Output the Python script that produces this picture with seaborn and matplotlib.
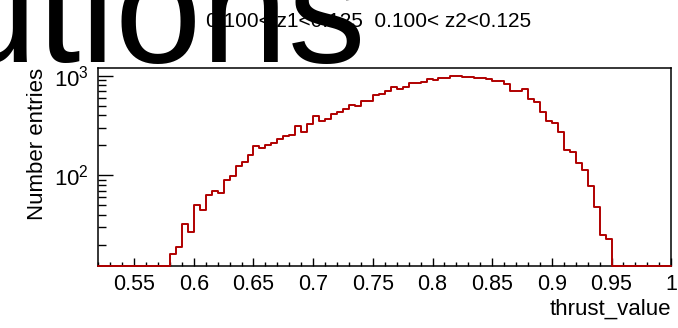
import numpy as np
import pandas as pd
import seaborn as sns
import matplotlib
matplotlib.use("Agg")
import matplotlib.pyplot as plt
from matplotlib.ticker import MultipleLocator, FixedLocator, NullFormatter

# Histogram: 96 bins of width 0.005 between 0.52 and 1.0
bin_lo = 0.52
bin_hi = 1.0
entries = [
    0, 0, 0, 0, 0, 0, 0, 0, 0, 0, 0, 0,                      # 0.520 - 0.575
    16, 19, 32, 27, 50, 45, 63, 69, 66, 90, 97, 124,         # 0.580 - 0.635
    137, 160, 197, 187, 200, 213, 230, 250, 255, 313, 275, 329,  # 0.640 - 0.695
    395, 347, 366, 411, 437, 462, 505, 491, 555, 560, 640, 654,  # 0.700 - 0.755
    695, 765, 737, 770, 843, 845, 857, 930, 900, 950, 950, 1000,  # 0.760 - 0.815
    985, 970, 965, 960, 940, 925, 880, 891, 830, 710, 710, 736,  # 0.820 - 0.875
    580, 550, 435, 347, 334, 272, 180, 173, 132, 112, 77, 48,    # 0.880 - 0.935
    25, 23, 0, 0, 0, 0, 0, 0, 0, 0, 0, 0,                     # 0.940 - 0.995
]

x_ticks = [0.55, 0.6, 0.65, 0.7, 0.75, 0.8, 0.85, 0.9, 0.95, 1.0]
x_tick_labels = ["0.55", "0.6", "0.65", "0.7", "0.75", "0.8", "0.85", "0.9", "0.95", "1"]
y_ticks = [100, 1000]
y_tick_labels = ["$10^{2}$", "$10^{3}$"]
y_minor = [20, 30, 40, 50, 60, 70, 80, 90, 200, 300, 400, 500, 600, 700, 800, 900]
y_min, y_max = 12.2, 1200

title_text = "distributions"
cut_text = "0.100< z1<0.125  0.100< z2<0.125"

sns.set_theme(style="white")
plt.rcParams["font.family"] = ["Liberation Sans", "DejaVu Sans"]
plt.rcParams["mathtext.fontset"] = "custom"
plt.rcParams["mathtext.rm"] = "Liberation Sans"
plt.rcParams["mathtext.default"] = "regular"
plt.rcParams["text.color"] = "black"
plt.rcParams["axes.labelcolor"] = "black"
plt.rcParams["xtick.color"] = "black"
plt.rcParams["ytick.color"] = "black"

edges = np.linspace(bin_lo, bin_hi, len(entries) + 1)
centers = (edges[:-1] + edges[1:]) / 2
df = pd.DataFrame({"thrust_value": centers,
                   "entries": np.clip(entries, y_min, None)})

fig = plt.figure(figsize=(6.78, 3.28), dpi=100)
ax = fig.add_axes([0.145, 0.189, 0.845, 0.604])

sns.histplot(data=df, x="thrust_value", weights="entries", bins=edges.tolist(),
             element="step", fill=False, color="#b00000", linewidth=1.4, ax=ax)
for ln in ax.lines:
    ln.set_clip_on(False)
    ln.set_zorder(3)

ax.set_yscale("log")
ax.set_xlim(bin_lo, bin_hi)
ax.set_ylim(y_min, y_max)

ax.xaxis.set_major_locator(FixedLocator(x_ticks))
ax.set_xticklabels(x_tick_labels)
ax.xaxis.set_minor_locator(MultipleLocator(0.01))
ax.yaxis.set_major_locator(FixedLocator(y_ticks))
ax.set_yticklabels(y_tick_labels)
ax.yaxis.set_minor_locator(FixedLocator(y_minor))
ax.yaxis.set_minor_formatter(NullFormatter())

ax.tick_params(which="both", direction="in", bottom=True, left=True,
               top=False, right=False, color="black")
ax.tick_params(axis="x", which="major", length=6, width=1, labelsize=15.5, pad=5.5)
ax.tick_params(axis="x", which="minor", length=3, width=1)
ax.tick_params(axis="y", which="major", length=11, width=1, labelsize=16, pad=7)
ax.tick_params(axis="y", which="minor", length=5.5, width=1)

for s in ax.spines.values():
    s.set_color("black")
    s.set_linewidth(1.1)

ax.set_xlabel("thrust_value", fontsize=16, loc="right", labelpad=3)
ax.set_ylabel("Number entries", fontsize=16, loc="top")

fig.text(0.544, 0.9177, cut_text, fontsize=15, ha="center", va="baseline")
fig.text(0.54, 0.811, title_text, fontsize=112, ha="right", va="baseline")

plt.savefig("out.png", dpi=100)
